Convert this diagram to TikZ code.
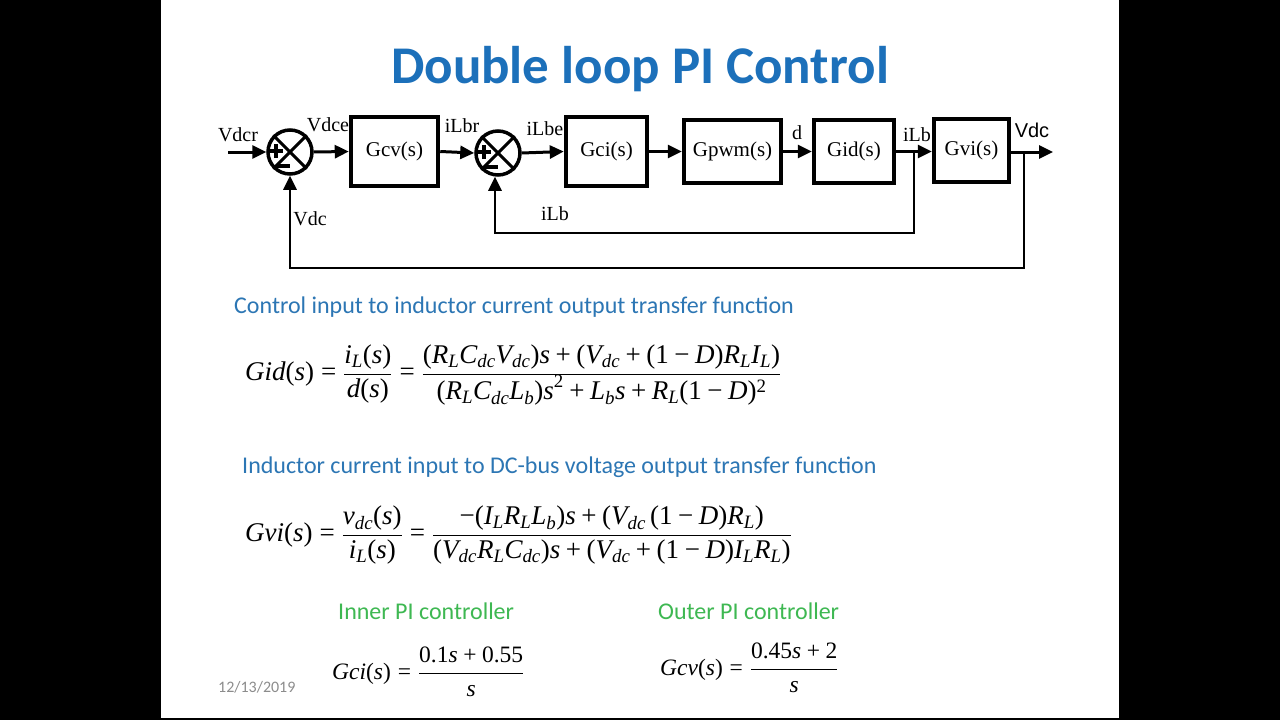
\documentclass[tikz,border=0pt]{standalone}
\usepackage{fontspec}
\setmainfont{Liberation Serif}
\newfontfamily\calfont{Carlito}
\newfontfamily\arialfont{Liberation Sans}
\usetikzlibrary{arrows.meta}
\DeclareSymbolFont{trm}{TU}{\rmdefault}{m}{n}
\AtBeginDocument{%
  \Umathcode`\(=4 \symtrm "0028\relax
  \Umathcode`\)=5 \symtrm "0029\relax
  \Umathcode`\0=0 \symtrm "0030\relax
  \Umathcode`\1=0 \symtrm "0031\relax
  \Umathcode`\2=0 \symtrm "0032\relax
  \Umathcode`\4=0 \symtrm "0034\relax
  \Umathcode`\5=0 \symtrm "0035\relax
  \Umathcode`\.=0 \symtrm "002E\relax
  \Umathcode`\==3 \symtrm "003D\relax
  \Umathcode`\+=2 \symtrm "002B\relax
  \Umathcode`\-=2 \symtrm "2212\relax
}
\definecolor{titleblue}{RGB}{28,112,186}
\definecolor{headblue}{RGB}{44,118,180}
\definecolor{pigreen}{RGB}{62,184,82}
\definecolor{dategray}{RGB}{140,140,140}
\begin{document}
\begin{tikzpicture}[x=1pt,y=-1pt,
  blk/.style={draw, line width=4.5pt, inner sep=0pt, font=\fontsize{21}{24}\selectfont},
  sumj/.style={draw, circle, line width=3.5pt, minimum size=44pt, inner sep=0pt},
  sig/.style={line width=3pt, -{Triangle[length=14pt,width=13pt]}},
  fb/.style={line width=2.6pt, -{Triangle[length=14pt,width=13pt]}},
  lbl/.style={inner sep=0pt, font=\fontsize{20}{24}\selectfont},
  head/.style={inner sep=0pt, anchor=west, text=headblue, font=\calfont\fontsize{24}{28}\selectfont},
  green/.style={inner sep=0pt, anchor=west, text=pigreen, font=\calfont\fontsize{24}{28}\selectfont},
  eqn/.style={inner sep=0pt, anchor=west, font=\fontsize{27}{31}\selectfont},
  eqs/.style={inner sep=0pt, anchor=west, font=\fontsize{23.5}{27}\selectfont}]
\useasboundingbox (0,0) rectangle (1280,720);
\fill[black] (0,0) rectangle (1280,720);
\fill[white] (161,0) rectangle (1119,718);
% title
\node[inner sep=0pt, text=titleblue, font=\calfont\bfseries\fontsize{53}{60}\selectfont] (title) at (640,69) {Double loop PI Control};
% block diagram
\node[sumj] (s1) at (290,152) {};
\node[sumj] (s2) at (498,153) {};
\foreach \s in {s1,s2}{
  \draw[line width=3pt] (\s.north west) -- (\s.south east);
  \draw[line width=3pt] (\s.north east) -- (\s.south west);
  \draw[line width=3.5pt] ([xshift=-21pt,yshift=1pt]\s.center) -- ([xshift=-7pt,yshift=1pt]\s.center);
  \draw[line width=3.5pt] ([xshift=-14pt,yshift=-6pt]\s.center) -- ([xshift=-14pt,yshift=8pt]\s.center);
  \draw[line width=3.5pt] ([xshift=-13pt,yshift=-14pt]\s.center) -- ([xshift=0pt,yshift=-14pt]\s.center);
}
\node[blk, minimum width=87pt, minimum height=69pt] (gcv) at (394.5,151.5) {Gcv(s)};
\node[blk, minimum width=81pt, minimum height=69pt] (gci) at (606.5,151.5) {Gci(s)};
\node[blk, minimum width=97pt, minimum height=63pt] (gpwm) at (732.5,151.5) {Gpwm(s)};
\node[blk, minimum width=80pt, minimum height=63pt] (gid) at (854,151.5) {Gid(s)};
\node[blk, minimum width=75pt, minimum height=63pt] (gvi) at (971.5,150.5) {Gvi(s)};
\coordinate (in) at (228,152);
\coordinate (out) at (1053,152);
\coordinate (b1) at (914,152);
\coordinate (c1) at (914,233);
\coordinate (b2) at (1024,152);
\coordinate (c2) at (1024,268);
\draw[sig] (in) -- (s1.west);
\draw[sig] (s1.east) -- (gcv.west);
\draw[sig] (gcv.east) -- (s2.west);
\draw[sig] (s2.east) -- (gci.west);
\draw[sig] (gci.east) -- (gpwm.west);
\draw[sig] (gpwm.east) -- (gid.west);
\draw[sig] (gid.east) -- (gvi.west |- gid.east);
\draw[sig] (gvi.east |- b2) -- (out);
\draw[fb] (b1) -- (c1) -| ([xshift=-3pt]s2.south);
\draw[fb] (b2) -- (c2) -| (s1.south);
% labels
\node[lbl] (l1) at (238,135) {Vdcr};
\node[lbl] (l2) at (328,125) {Vdce};
\node[lbl] (l3) at (462,126) {iLbr};
\node[lbl] (l4) at (310,219) {Vdc};
\node[lbl] (l5) at (545,129) {iLbe};
\node[lbl] (l6) at (555,214) {iLb};
\node[lbl] (l7) at (797,133) {d};
\node[lbl] (l8) at (917,135) {iLb};
\node[lbl, font=\arialfont\fontsize{20}{24}\selectfont] (l9) at (1032,130) {Vdc};
% headings
\node[head] (h1) at (234,307) {Control input to inductor current output transfer function};
\node[head] (h2) at (242,467) {Inductor current input to DC-bus voltage output transfer function};
\node[green] (h3) at (338,611) {Inner PI controller};
\node[green] (h4) at (658,611) {Outer PI controller};
% equations
\node[eqn] (e1) at (245,375) {$\displaystyle \mathit{Gid(s)}=\frac{\mathit{i_L(s)}}{\mathit{d(s)}}=\frac{\mathit{(R_LC_{dc}V_{dc})s}+\mathit{(V_{dc}}+(1-\mathit{D)R_LI_L)}}{\mathit{(R_LC_{dc}L_b)s}^2+\mathit{L_bs}+\mathit{R_L}(1-\mathit{D})^2}$};
\node[eqn] (e2) at (245,535) {$\displaystyle \mathit{Gvi(s)}=\frac{\mathit{v_{dc}(s)}}{\mathit{i_L(s)}}=\frac{-\mathit{(I_LR_LL_b)s}+\mathit{(V_{dc}}\,(1-\mathit{D)R_L)}}{\mathit{(V_{dc}R_LC_{dc})s}+\mathit{(V_{dc}}+(1-\mathit{D)I_LR_L)}}$};
\node[eqs] (e3) at (332,672) {$\displaystyle \mathit{Gci(s)}=\frac{0.1\mathit{s}+0.55}{\mathit{s}}$};
\node[eqs] (e4) at (660,668) {$\displaystyle \mathit{Gcv(s)}=\frac{0.45\mathit{s}+2}{\mathit{s}}$};
\node[inner sep=0pt, anchor=west, text=dategray, font=\calfont\fontsize{16}{18}\selectfont] (date) at (218,687) {12/13/2019};
\end{tikzpicture}
\end{document}
